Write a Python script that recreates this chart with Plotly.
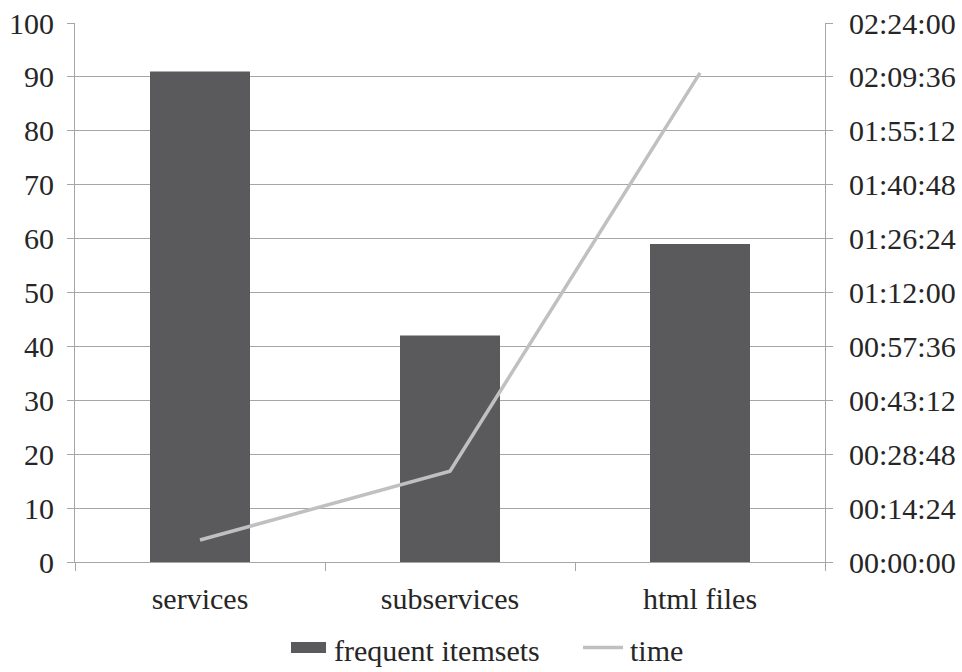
import plotly.graph_objects as go

categories = ["services", "subservices", "html files"]
frequent_itemsets = [91, 42, 59]
# time in seconds
time_seconds = [352, 1456, 7840]
right_tick_vals = [0, 864, 1728, 2592, 3456, 4320, 5184, 6048, 6912, 7776, 8640]
right_tick_text = ["00:00:00", "00:14:24", "00:28:48", "00:43:12", "00:57:36", "01:12:00",
                   "01:26:24", "01:40:48", "01:55:12", "02:09:36", "02:24:00"]
series_names = ["frequent itemsets", "time"]

FONT = "Liberation Serif, DejaVu Serif, serif"
AX = "#a6a6a6"
BAR_C = "#5a5a5c"
LINE_C = "#c0c0c0"
TXT = "#262626"
FS = 30

fig = go.Figure()
fig.add_trace(go.Bar(x=categories, y=frequent_itemsets, name=series_names[0],
                     marker=dict(color=BAR_C, line=dict(width=0)), width=0.4))
fig.add_trace(go.Scatter(x=categories, y=time_seconds, name=series_names[1], yaxis="y2",
                         mode="lines", line=dict(color=LINE_C, width=3.5)))

tf = dict(family=FONT, size=FS, color=TXT)

fig.update_layout(
    width=962, height=672,
    margin=dict(l=75, r=137, t=23, b=110),
    plot_bgcolor="white", paper_bgcolor="white",
    font=dict(family=FONT, size=FS, color=TXT),
    showlegend=False,
    xaxis=dict(showline=True, linecolor=AX, linewidth=1, ticks="outside",
               tickson="boundaries", ticklen=8, tickcolor=AX, showgrid=False,
               tickfont=tf, ticklabelstandoff=10, automargin=False),
    yaxis=dict(range=[0, 100], dtick=10, showgrid=True, gridcolor=AX, gridwidth=1,
               showline=True, linecolor=AX, ticks="outside", ticklen=7, tickcolor=AX,
               zeroline=False, tickfont=tf, ticklabelstandoff=7, automargin=False),
    yaxis2=dict(range=[0, 8640], overlaying="y", side="right", tickmode="array",
                tickvals=right_tick_vals, ticktext=right_tick_text, showgrid=False,
                showline=True, linecolor=AX, ticks="outside", ticklen=7, tickcolor=AX,
                zeroline=False, tickfont=tf, ticklabelstandoff=10, automargin=False),
)

# custom legend (paper coordinates)
fig.add_shape(type="rect", xref="paper", yref="paper", x0=0.288, x1=0.3347,
              y0=-0.1688, y1=-0.1484, fillcolor=BAR_C, line=dict(width=0))
fig.add_shape(type="line", xref="paper", yref="paper", x0=0.6773, x1=0.7307,
              y0=-0.1586, y1=-0.1586, line=dict(color=LINE_C, width=3.5))
fig.add_annotation(text=series_names[0], xref="paper", yref="paper", x=0.3427, y=-0.1651,
                   xanchor="left", yanchor="middle", showarrow=False, font=tf)
fig.add_annotation(text=series_names[1], xref="paper", yref="paper", x=0.7373, y=-0.1651,
                   xanchor="left", yanchor="middle", showarrow=False, font=tf)

fig.write_html("out.html")
